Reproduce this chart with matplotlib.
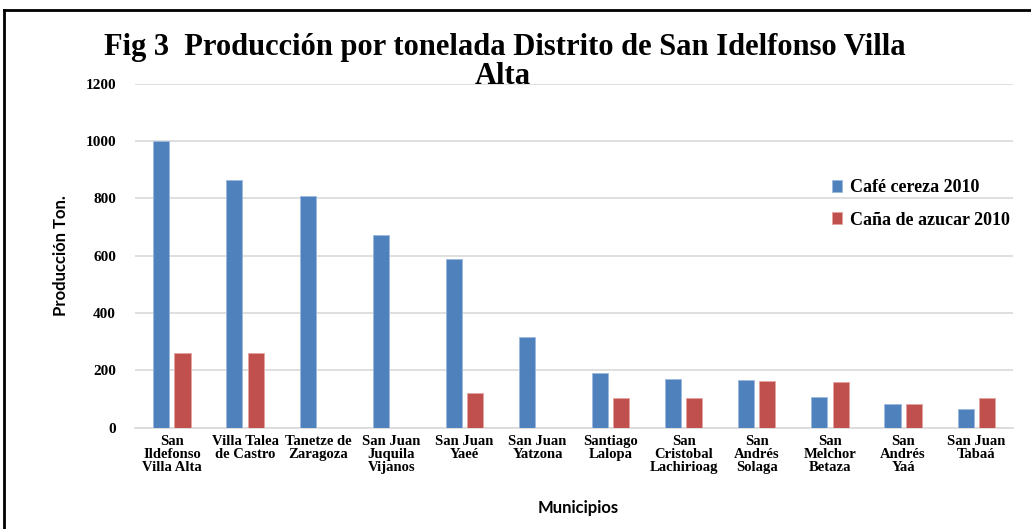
import numpy as np
import matplotlib
matplotlib.use("Agg")
import matplotlib.pyplot as plt
from matplotlib.lines import Line2D

# datos
municipios = ["San\nIldefonso\nVilla Alta", "Villa Talea\nde Castro", "Tanetze de\nZaragoza",
              "San Juan\nJuquila\nVijanos", "San Juan\nYaeé", "San Juan\nYatzona",
              "Santiago\nLalopa", "San\nCristobal\nLachirioag", "San\nAndrés\nSolaga",
              "San\nMelchor\nBetaza", "San\nAndrés\nYaá", "San Juan\nTabaá"]
cafe = [1000, 866, 809, 671, 588, 317, 192, 170, 167, 106, 84, 64]
cana = [262, 262, 0, 0, 121, 0, 103, 103, 164, 160, 81, 103]
yticks = [0, 200, 400, 600, 800, 1000, 1200]

serif = "Liberation Serif"
sans = "Lato"

fig = plt.figure(figsize=(10.31, 5.29), dpi=100)
ax = fig.add_axes([0.1313, 0.1915, 0.851, 0.650])

x = np.arange(len(municipios))
w = 0.22
ax.bar(x - 0.145, cafe, w, color="#4F81BD", edgecolor="#9DB9DF", linewidth=0.6,
       label="Café cereza 2010", zorder=3)
ax.bar(x + 0.145, cana, w, color="#C0504D", edgecolor="#E3A3A1", linewidth=0.6,
       label="Caña de azucar 2010", zorder=3)

ax.set_xlim(-0.5, len(municipios) - 0.5)
ax.set_ylim(0, 1200)
ax.set_yticks(yticks)
ax.set_yticklabels([str(v) for v in yticks], fontfamily=serif, fontweight="bold", fontsize=11)
ax.set_xticks(x)
ax.set_xticklabels(municipios, fontfamily=serif, fontweight="bold", fontsize=10.5,
                   linespacing=1.0)
ax.tick_params(axis="both", length=0)
ax.tick_params(axis="y", pad=14)
ax.tick_params(axis="x", pad=5)
ax.grid(axis="y", color="#D9D9D9", linewidth=1.2, zorder=0)
for s in ["top", "right", "left"]:
    ax.spines[s].set_visible(False)
ax.spines["bottom"].set_color("#D9D9D9")
ax.spines["bottom"].set_linewidth(1.2)

ax.set_ylabel("Producción Ton.", fontfamily=sans, fontweight="bold", fontsize=12, labelpad=12)
ax.set_xlabel("Municipios", fontfamily=sans, fontweight="bold", fontsize=12)
ax.xaxis.set_label_coords(0.505, -0.21)

fig.text(0.49, 0.91, "Fig 3  Producción por tonelada Distrito de San Idelfonso Villa",
         ha="center", va="center", fontfamily=serif, fontweight="bold", fontsize=22)
fig.text(0.488, 0.855, "Alta", ha="center", va="center", fontfamily=serif,
         fontweight="bold", fontsize=22)

leg = ax.legend(loc="upper left", bbox_to_anchor=(0.775, 0.77), frameon=False,
                prop={"family": serif, "weight": "bold", "size": 13},
                handlelength=0.6, handleheight=0.6, handletextpad=0.4, labelspacing=0.85)

# marco de la figura
fig.add_artist(Line2D([0.004, 0.004], [0, 0.981], color="black", lw=2, transform=fig.transFigure))
fig.add_artist(Line2D([0.004, 1.0], [0.981, 0.981], color="black", lw=2, transform=fig.transFigure))

plt.savefig("out.png", dpi=100)
